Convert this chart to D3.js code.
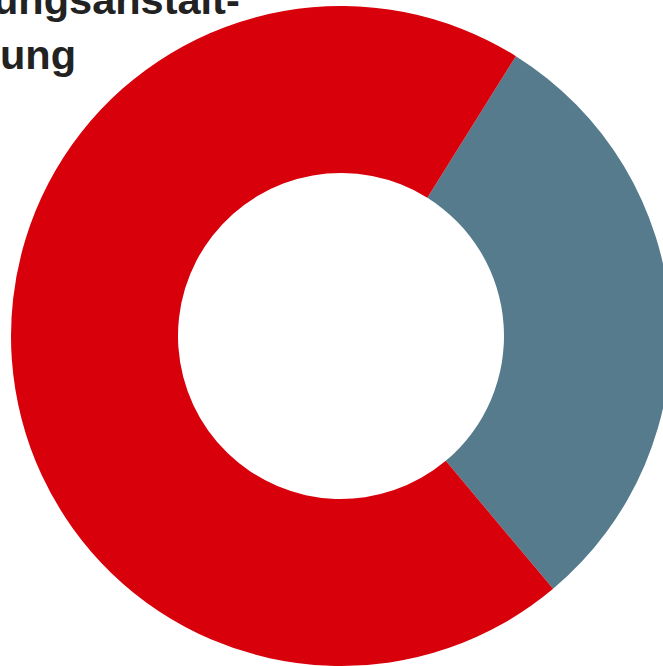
<!DOCTYPE html>
<html>
<head>
<meta charset="utf-8">
<script src="https://cdn.jsdelivr.net/npm/d3@7"></script>
<style>
  html, body { margin: 0; padding: 0; background: #fff; overflow: hidden; }
  svg { display: block; }
</style>
</head>
<body>
<svg id="chart" width="663" height="666"></svg>
<script>
// Data
const categories = ["Anteil B", "Anteil A"];
const values = [30, 70];
const colors = ["#557B8D", "#D7000B"];
const titleLines = ["ungsanstalt-", "ung"];

const width = 663, height = 666;
const cx = 341, cy = 336;
const outerR = 330, innerR = 163;
const start = 32 * Math.PI / 180;

const svg = d3.select("#chart");

const pie = d3.pie()
  .sort(null)
  .value(d => d)
  .startAngle(start)
  .endAngle(start + 2 * Math.PI);

const arc = d3.arc().innerRadius(innerR).outerRadius(outerR);

const color = d3.scaleOrdinal().domain(categories).range(colors);

svg.append("g")
  .attr("transform", `translate(${cx},${cy})`)
  .selectAll("path")
  .data(pie(values))
  .join("path")
  .attr("d", arc)
  .attr("fill", (d, i) => color(categories[i]));

// Title (cut off at the left edge, as in the reference)
const title = svg.append("g")
  .attr("font-family", "'Liberation Sans', Arial, Helvetica, sans-serif")
  .attr("font-weight", "bold")
  .attr("font-size", 41.5)
  .attr("fill", "#222222");

title.selectAll("text")
  .data(titleLines)
  .join("text")
  .attr("x", (d, i) => i === 0 ? -7 : 0)
  .attr("y", (d, i) => 14 + i * 55)
  .text(d => d);
</script>
</body>
</html>
